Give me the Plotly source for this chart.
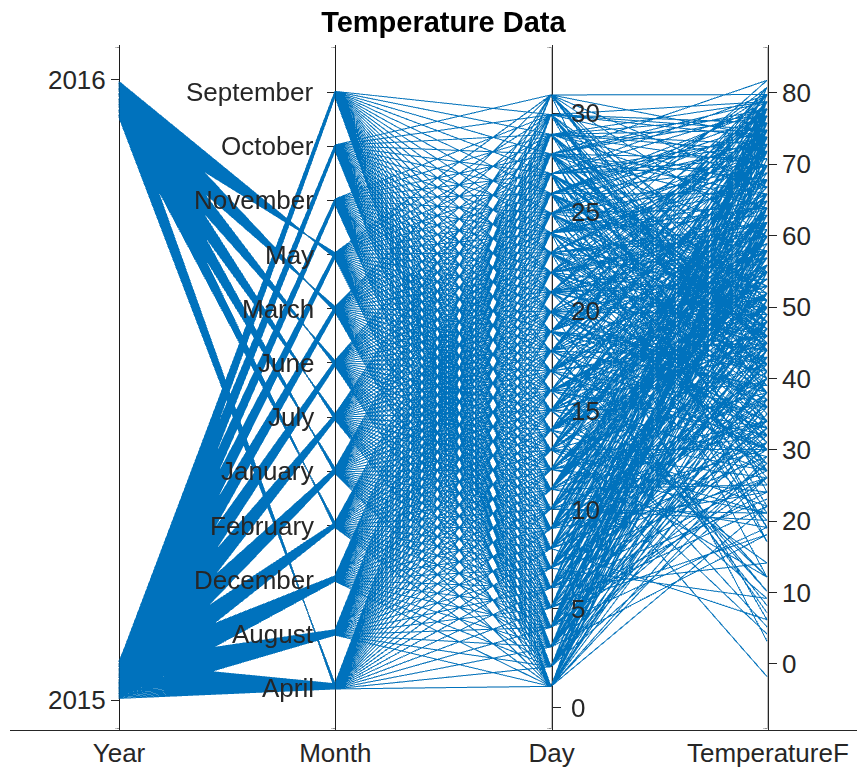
"""Parallel coordinates of daily temperature data (Jan 2015 - Jul 2016)."""

import plotly.graph_objects as go

# Month category order on the axis (bottom to top)
month_names = ["April", "August", "December", "February", "January", "July",
               "June", "March", "May", "November", "October", "September"]

# Daily mean temperatures (F), one list per month
jan_2015 = [31, 35, 38, 26, 18, 14, 9, 6, 24, 20, 25, 34, 26, 22, 29, 33,
            30, 39, 41, 33, 32, 36, 34, 28, 30, 25, 21, 19, 27, 24, 17]
feb_2015 = [22, 35, 18, 19, 22, 30, 27, 26, 31, 21, 19, 24, 21, -2, 14, 5,
            12, 12, 10, 7, 20, 31, 6, 3, 19, 17, 12, 22]
mar_2015 = [29, 26, 36, 40, 24, 23, 33, 38, 41, 45, 43, 37, 38, 42, 44, 32,
            45, 30, 34, 37, 32, 28, 27, 31, 39, 42, 32, 33, 45, 41, 44]
apr_2015 = [44, 40, 49, 45, 43, 43, 48, 40, 41, 45, 52, 54, 52, 56, 60, 55,
            58, 53, 58, 65, 53, 46, 44, 47, 46, 48, 50, 52, 50, 55]
may_2015 = [58, 62, 63, 61, 59, 58, 64, 70, 68, 56, 62, 72, 63, 60, 64, 66,
            72, 77, 65, 59, 57, 58, 61, 68, 70, 73, 74, 64, 73, 76, 60]
jun_2015 = [55, 56, 52, 60, 62, 62, 65, 69, 70, 61, 64, 72, 73, 62, 63, 70,
            73, 74, 72, 76, 68, 66, 72, 67, 68, 70, 71, 66, 67, 74]
jul_2015 = [74, 72, 71, 68, 72, 73, 76, 74, 78, 73, 70, 72, 73, 75, 74, 77,
            79, 80, 81, 78, 77, 78, 73, 72, 76, 78, 80, 82, 79, 76, 74]
aug_2015 = [73, 75, 78, 79, 75, 73, 74, 77, 76, 75, 74, 77, 75, 76, 78, 79,
            80, 81, 80, 79, 78, 75, 72, 70, 74, 77, 78, 79, 77, 79, 80]
sep_2015 = [78, 76, 77, 80, 79, 77, 78, 79, 81, 76, 72, 70, 67, 66, 67, 70,
            72, 70, 68, 65, 64, 62, 60, 63, 64, 66, 70, 71, 72, 74]
oct_2015 = [62, 58, 55, 56, 58, 57, 59, 62, 66, 64, 56, 52, 50, 54, 58, 52,
            46, 43, 44, 49, 54, 60, 55, 50, 48, 47, 53, 60, 64, 55, 51]
nov_2015 = [56, 61, 64, 66, 65, 63, 57, 52, 51, 53, 57, 55, 50, 46, 45, 50,
            53, 58, 62, 51, 46, 40, 38, 42, 44, 47, 52, 48, 44, 40]
dec_2015 = [43, 45, 47, 48, 44, 45, 42, 46, 49, 53, 55, 57, 60, 62, 58, 54,
            59, 50, 42, 38, 45, 51, 60, 64, 58, 48, 45, 47, 39, 38, 40]
jan_2016 = [41, 37, 38, 28, 22, 26, 34, 37, 40, 48, 34, 32, 30, 27, 36, 39,
            28, 10, 8, 27, 30, 31, 27, 26, 31, 38, 37, 34, 38, 36, 42]
feb_2016 = [43, 45, 43, 40, 33, 30, 31, 29, 31, 30, 25, 21, 12, 4, 9, 27,
            36, 33, 30, 44, 50, 45, 40, 41, 48, 34, 35, 41, 44]
mar_2016 = [37, 33, 28, 32, 34, 42, 50, 60, 62, 64, 58, 50, 52, 47, 45, 43,
            46, 39, 38, 34, 36, 40, 42, 46, 49, 51, 46, 45, 50, 44, 48]
apr_2016 = [55, 56, 40, 32, 34, 38, 44, 48, 36, 34, 40, 45, 48, 50, 52, 56,
            62, 63, 58, 55, 60, 58, 52, 50, 49, 53, 47, 46, 49, 51]
may_2016 = [48, 51, 52, 50, 49, 50, 51, 48, 47, 56, 60, 57, 62, 52, 50, 48,
            56, 57, 59, 66, 58, 61, 62, 65, 74, 78, 73, 68, 70, 75, 67]
jun_2016 = [64, 58, 63, 64, 66, 61, 60, 62, 58, 60, 66, 70, 64, 63, 68, 66,
            65, 69, 74, 78, 75, 69, 71, 73, 76, 75, 74, 78, 72, 70]
jul_2016 = [71, 72, 70, 74, 78, 80, 76, 77, 76, 75, 74, 73, 78, 79, 75, 77,
            80, 79, 78, 79, 80, 82, 81, 80, 79, 76, 78, 77, 75, 76, 80]

monthly = [
    (2015, "January", jan_2015), (2015, "February", feb_2015),
    (2015, "March", mar_2015), (2015, "April", apr_2015),
    (2015, "May", may_2015), (2015, "June", jun_2015),
    (2015, "July", jul_2015), (2015, "August", aug_2015),
    (2015, "September", sep_2015), (2015, "October", oct_2015),
    (2015, "November", nov_2015), (2015, "December", dec_2015),
    (2016, "January", jan_2016), (2016, "February", feb_2016),
    (2016, "March", mar_2016), (2016, "April", apr_2016),
    (2016, "May", may_2016), (2016, "June", jun_2016),
    (2016, "July", jul_2016),
]

axis_labels = ["Year", "Month", "Day", "TemperatureF"]
day_ticks = [0, 5, 10, 15, 20, 25, 30]
temp_ticks = [0, 10, 20, 30, 40, 50, 60, 70, 80]

# flatten into one row per day.  Categorical axes (Year, Month) get a small
# display offset like MATLAB's jitter, so bundles don't collapse to one line
year_pos, month_pos, days, temps = [], [], [], []
for yr, mname, vals in monthly:
    for i, t in enumerate(vals):
        d = i + 1
        year_pos.append(yr + (2015.5 - yr) * 0.12 * (d - 1) / 30)
        month_pos.append(month_names.index(mname) + 0.05 * (d - 16) / 15)
        days.append(d)
        temps.append(t)

TEXT = "#262626"
BLUE = "#0072BD"
FONT = "Liberation Sans, Arial, sans-serif"

# figure is drawn inside the page body's 8px margin
W, H = 857, 768
M = dict(l=2, r=0, t=37, b=46)

# axis extents (data units), matching the reference axes
year_rng = [2014.952, 2016.056]
month_rng = [-0.775, 11.87]
day_rng = [-1.11, 33.43]
temp_rng = [-9.25, 86.7]

x_rng = [-0.504, 3.449]
pos = [(k - x_rng[0]) / (x_rng[1] - x_rng[0]) for k in range(4)]

hidden = dict(color="rgba(0,0,0,0)", size=1)

fig = go.Figure()
fig.add_trace(go.Parcoords(
    domain=dict(x=[pos[0], pos[3]], y=[0, 1]),
    line=dict(color=BLUE),
    labelfont=hidden,
    tickfont=hidden,
    rangefont=hidden,
    dimensions=[
        dict(label=" ", values=year_pos, range=year_rng, tickvals=[]),
        dict(label=" ", values=month_pos, range=month_rng, tickvals=[]),
        dict(label=" ", values=days, range=day_rng, tickvals=[]),
        dict(label=" ", values=temps, range=temp_rng, tickvals=[]),
    ],
))

# empty traces so the overlay axes get drawn
for ax in ["y", "y2", "y3", "y4"]:
    fig.add_trace(go.Scatter(x=[], y=[], xaxis="x", yaxis=ax,
                             showlegend=False, hoverinfo="skip"))

yax = dict(showgrid=False, zeroline=False, showline=True, linecolor=TEXT,
           linewidth=1, ticks="outside", ticklen=8, tickcolor=TEXT,
           tickfont=dict(size=26, color=TEXT), anchor="free",
           automargin=False, fixedrange=True)

# Month and Day tick labels sit over the lines, so draw them on top
annotations = []
for k, name in enumerate(month_names):
    annotations.append(dict(x=1, y=k, xref="x", yref="y2", text=name,
                            showarrow=False, xanchor="right", xshift=-19,
                            font=dict(size=26, color=TEXT)))
for v in day_ticks:
    annotations.append(dict(x=2, y=v, xref="x", yref="y3", text=str(v),
                            showarrow=False, xanchor="left", xshift=17,
                            font=dict(size=26, color=TEXT)))

fig.update_layout(
    width=W, height=H,
    margin=M,
    paper_bgcolor="white", plot_bgcolor="white",
    font=dict(family=FONT, color=TEXT),
    title=dict(text="<b>Temperature Data</b>", x=0.508, xanchor="center",
               y=0.982, yanchor="middle", font=dict(size=29, color="black")),
    xaxis=dict(range=x_rng, showgrid=False, zeroline=False, showline=True,
               linecolor=TEXT, tickvals=[0, 1, 2, 3], ticktext=axis_labels,
               ticks="", tickfont=dict(size=26, color=TEXT),
               ticklabelstandoff=0, automargin=False, fixedrange=True),
    yaxis=dict(yax, range=year_rng, tickvals=[2015, 2016], position=pos[0],
               side="left"),
    yaxis2=dict(yax, range=month_rng, tickvals=list(range(12)),
                ticktext=[""] * 12, position=pos[1], side="left",
                overlaying="y"),
    yaxis3=dict(yax, range=day_rng, tickvals=day_ticks,
                ticktext=[""] * len(day_ticks), position=pos[2],
                side="right", overlaying="y"),
    yaxis4=dict(yax, range=temp_rng, tickvals=temp_ticks, position=pos[3],
                side="right", overlaying="y"),
    annotations=annotations,
)

# render the WebGL lines at CSS-pixel resolution: 1px lines instead of 0.5px
fig.write_html("out.html", config={"plotGlPixelRatio": 1})
